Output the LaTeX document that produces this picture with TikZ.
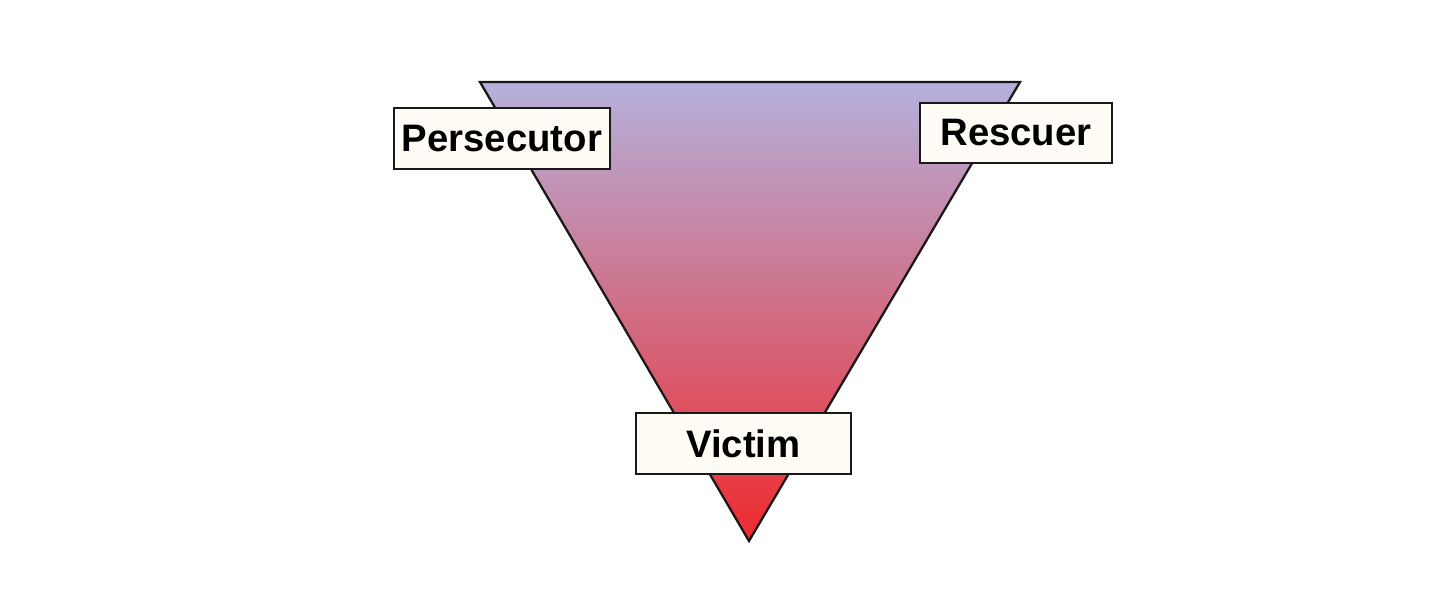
\documentclass[tikz,border=0pt]{standalone}
\usepackage{fontspec}
\setmainfont{Liberation Sans}
\usepackage{xcolor}
\usepackage{tikz}
\usetikzlibrary{positioning}

\definecolor{cream}{RGB}{255,252,245}
\definecolor{lavender}{RGB}{180,177,220}
\definecolor{hotred}{RGB}{238,42,46}

\begin{document}
\begin{tikzpicture}[
    x=0.02cm, y=-0.02cm,
    role/.style={rectangle, draw=black!90, fill=cream, line width=1.3pt,
                 minimum height=1.21cm, inner sep=4pt,
                 font=\fontsize{21.8}{26}\selectfont\bfseries},
    drama/.style={draw=black!90, line width=1.3pt, line join=miter,
                  top color=lavender, bottom color=hotred},
]
\useasboundingbox (0,0) rectangle (1440,592);

% triangle corners
\coordinate (tl) at (480,82);
\coordinate (tr) at (1020,82);
\coordinate (tip) at (749,541);
\path[drama] (tl) -- (tr) -- (tip) -- cycle;

% roles
\node[role, minimum width=4.32cm] (pers) at (502,138.5) {Persecutor};
\node[role, minimum width=3.84cm] (resc) at (1016,133) {Rescuer};
\node[role, minimum width=4.30cm] (vict) at (743.5,443.5) {Victim};
\end{tikzpicture}
\end{document}
